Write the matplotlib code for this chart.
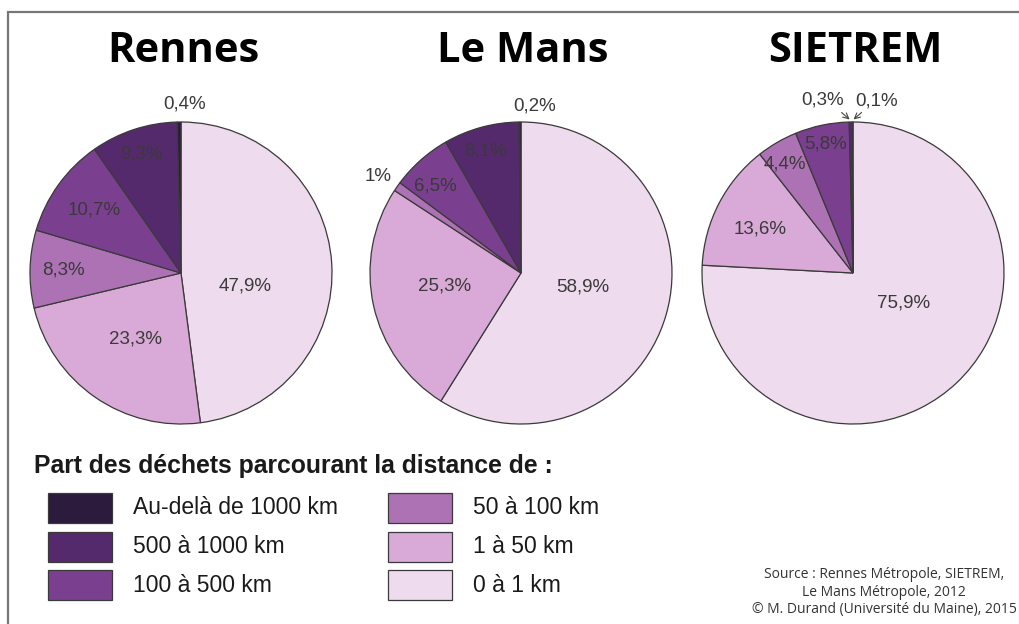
import numpy as np
import matplotlib
matplotlib.use('Agg')
import matplotlib.pyplot as plt
from matplotlib.patches import Rectangle

# donnees (ordre horaire depuis le haut : 0-1 km ... > 1000 km)
villes = ['Rennes', 'Le Mans', 'SIETREM']
rennes = [47.9, 23.3, 8.3, 10.7, 9.3, 0.4]
le_mans = [58.9, 25.3, 1.0, 6.5, 8.1, 0.2]
sietrem = [75.9, 13.6, 4.4, 5.8, 0.3, 0.1]
classes = ['0 à 1 km', '1 à 50 km', '50 à 100 km', '100 à 500 km',
           '500 à 1000 km', 'Au-delà de 1000 km']
couleurs = ['#eedbee', '#d9aad7', '#ad72b4', '#7b3f8f', '#542a6d', '#2c1b3c']

# placement des etiquettes (distance en rayons, decalage angulaire en degres)
dist_labels = [
    [0.43, 0.53, 0.78, 0.71, 0.83, 1.12],
    [0.42, 0.51, 1.14, 0.81, 0.84, 1.11],
    [0.39, 0.68, 0.85, 0.87, 1.16, 1.15],
]
decal_labels = [
    [-15, 0, 0, 0, 0, -2],
    [3, -3, 1, 3, 1, -5],
    [16, 2, 2, 0, 9, -8],
]

W, H = 1019, 624
centres_x = [181, 521, 853]
centre_y = H - 273
rayon = 151

def fmt(v):
    s = f'{v:g}'.replace('.', ',')
    return s + '%'

fig = plt.figure(figsize=(W / 100, H / 100), dpi=100)
ax = fig.add_axes([0, 0, 1, 1])

series = [rennes, le_mans, sietrem]
for i, vals in enumerate(series):
    cx = centres_x[i]
    wedges, _ = ax.pie(vals, colors=couleurs, startangle=90, counterclock=False,
                       center=(cx, centre_y), radius=rayon, frame=True,
                       wedgeprops=dict(edgecolor='#3a3a3a', linewidth=0.9))
    ax.text(cx + 2, H - 62, villes[i], ha='center', va='baseline',
            fontsize=30, fontweight='bold', family='Open Sans', color='black')
    for j, w in enumerate(wedges):
        mid = np.radians((w.theta1 + w.theta2) / 2 + decal_labels[i][j])
        d = dist_labels[i][j]
        lx = cx + rayon * d * np.cos(mid)
        ly = centre_y + rayon * d * np.sin(mid)
        ax.text(lx, ly, fmt(vals[j]), ha='center', va='center', fontsize=13.5,
                family='Liberation Sans', color='#3a3a3a')
        if i == 2 and j >= 4:
            mid0 = np.radians((w.theta1 + w.theta2) / 2)
            tx = cx + rayon * 1.01 * np.cos(mid0)
            ty = centre_y + rayon * 1.01 * np.sin(mid0)
            sens = -1 if j == 4 else 1
            ax.annotate('', xy=(tx + sens * 1, ty + 1), xytext=(tx + sens * 9, ty + 8),
                        arrowprops=dict(arrowstyle='->', color='#444444', lw=0.8,
                                        shrinkA=0, shrinkB=0))

# legende
ax.text(34, H - 466, 'Part des déchets parcourant la distance de :', ha='left',
        va='center', fontsize=17.8, fontweight='bold', family='Liberation Sans',
        color='#1a1a1a')
ordre_leg = [5, 4, 3, 2, 1, 0]
for k, idx in enumerate(ordre_leg):
    col = k // 3
    row = k % 3
    bx = 48 + col * 340
    by = H - (508 + row * 38.5)
    ax.add_patch(Rectangle((bx, by - 15), 64, 30, facecolor=couleurs[idx],
                           edgecolor='#3a3a3a', linewidth=0.9))
    ax.text(bx + 85, by, classes[idx], ha='left', va='center', fontsize=16.5,
            family='Liberation Sans', color='#1a1a1a')

# source
source = ['Source : Rennes Métropole, SIETREM,', 'Le Mans Métropole, 2012',
          '© M. Durand (Université du Maine), 2015']
for k, s in enumerate(source):
    ax.text(884, H - (575 + k * 17), s, ha='center', va='center', fontsize=10,
            family='Open Sans', color='#333333')

# cadre
ax.plot([8, 8, W], [0, H - 12, H - 12], color='#777777', lw=1.6,
        solid_joinstyle='miter')

ax.set_xlim(0, W)
ax.set_ylim(0, H)
ax.axis('off')
fig.savefig('out.png', dpi=100)
